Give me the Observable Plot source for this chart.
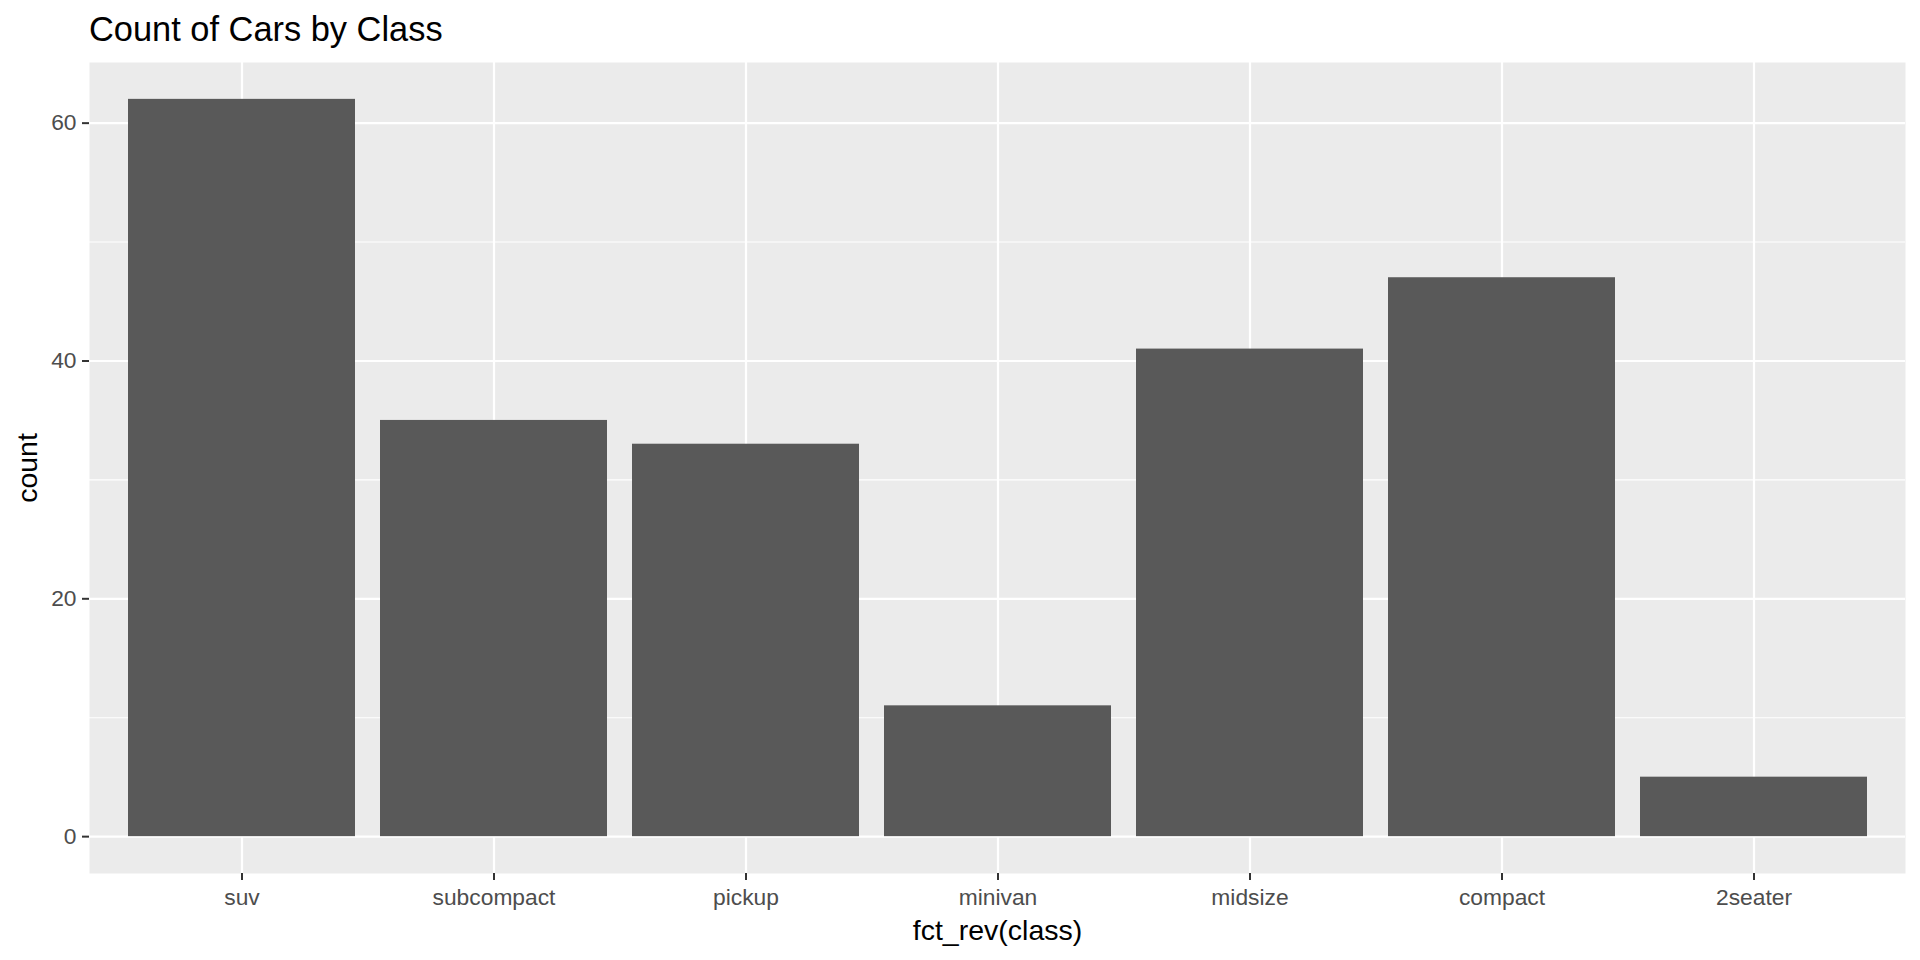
<!DOCTYPE html>
<html>
<head>
<meta charset="utf-8">
<script src="https://cdn.jsdelivr.net/npm/d3@7"></script>
<script src="https://cdn.jsdelivr.net/npm/@observablehq/plot@0.6"></script>
<style>
  html, body { margin: 0; padding: 0; background: #ffffff; }
  #title { height: 58px; line-height: 58px; padding-left: 89px; font-family: "Liberation Sans", Arial, sans-serif; font-size: 34.4px; color: #000; white-space: nowrap; }
</style>
</head>
<body>
<div id="title">Count of Cars by Class</div>
<div id="chart"></div>
<script>
const classes = ["suv", "subcompact", "pickup", "minivan", "midsize", "compact", "2seater"];
const counts = [62, 35, 33, 11, 41, 47, 5];
const majorTicks = [0, 20, 40, 60];
const minorTicks = [10, 30, 50];
const xTitle = "fct_rev(class)";
const yTitle = "count";

const data = classes.map((c, i) => ({cls: c, n: counts[i]}));

const chart = Plot.plot({
  width: 1920,
  height: 902,
  marginTop: 4,
  marginLeft: 89,
  marginRight: 15,
  marginBottom: 87,
  style: {fontFamily: "'Liberation Sans', Arial, sans-serif", background: "#ffffff"},
  x: {type: "band", domain: classes, paddingInner: 0.1, paddingOuter: 0.15},
  y: {domain: [-3.1, 65.1]},
  marks: [
    Plot.frame({fill: "#EBEBEB", stroke: null}),
    Plot.ruleY(minorTicks, {stroke: "#ffffff", strokeWidth: 1.1}),
    Plot.ruleY(majorTicks, {stroke: "#ffffff", strokeWidth: 2.2}),
    Plot.gridX({stroke: "#ffffff", strokeOpacity: 1, strokeWidth: 2.2}),
    Plot.barY(data, {x: "cls", y: "n", fill: "#595959"}),
    Plot.axisX({tickSize: 7, tickPadding: 8, fontSize: 22.8, stroke: "#333333", fill: "#4D4D4D", strokeWidth: 2, label: null}),
    Plot.axisY({ticks: majorTicks, tickSize: 7, tickPadding: 6, fontSize: 22.8, stroke: "#333333", fill: "#4D4D4D", strokeWidth: 2, label: null}),
    Plot.text([xTitle], {frameAnchor: "bottom", dy: 66, fontSize: 28.5, fill: "#000000", text: d => d}),
    Plot.text([yTitle], {frameAnchor: "left", textAnchor: "middle", lineAnchor: "middle", dx: -62, rotate: -90, fontSize: 28.5, fill: "#000000", text: d => d})
  ]
});
document.getElementById("chart").appendChild(chart);
</script>
</body>
</html>
